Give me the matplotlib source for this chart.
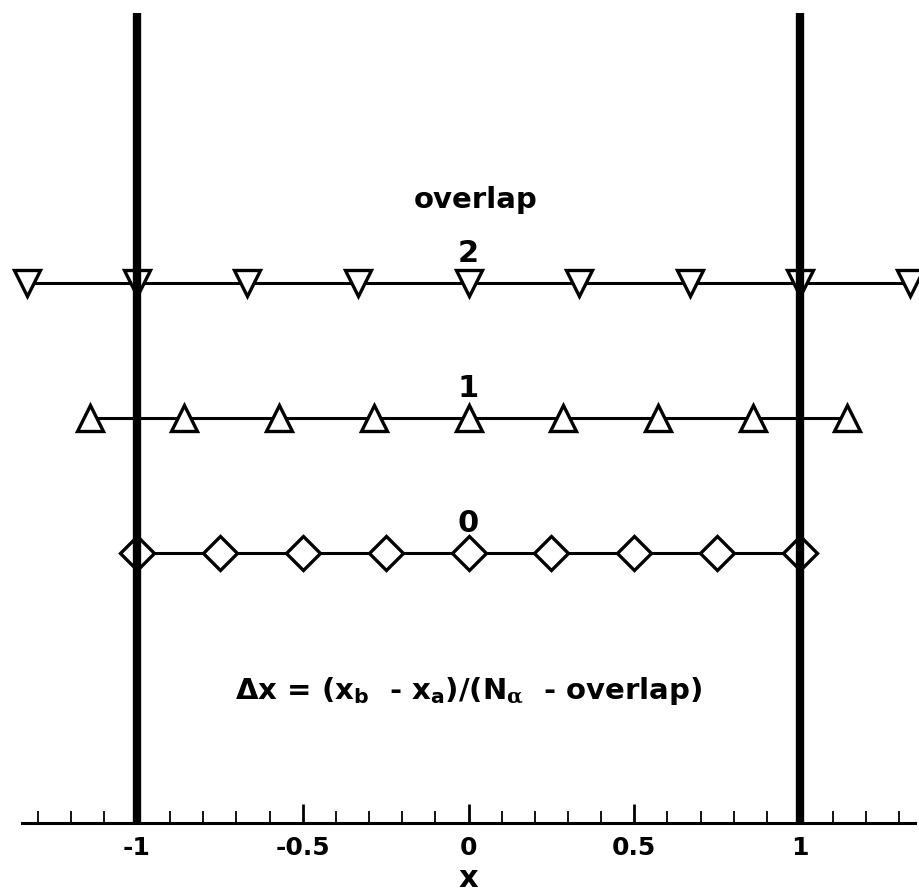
import matplotlib
matplotlib.use("Agg")
import matplotlib.pyplot as plt
from matplotlib.ticker import MultipleLocator, FixedFormatter, FixedLocator

plt.rcParams['font.family'] = ['DejaVu Sans']
plt.rcParams['font.weight'] = 'bold'
plt.rcParams['mathtext.fontset'] = 'custom'
plt.rcParams['mathtext.rm'] = 'DejaVu Sans:bold'
plt.rcParams['mathtext.it'] = 'DejaVu Serif'
plt.rcParams['mathtext.bf'] = 'DejaVu Sans:bold'

# grid point locations for each overlap count
x_overlap0 = [-1.0, -0.75, -0.5, -0.25, 0.0, 0.25, 0.5, 0.75, 1.0]
x_overlap1 = [-1.143, -0.857, -0.571, -0.286, 0.0, 0.286, 0.571, 0.857, 1.143]
x_overlap2 = [-1.333, -1.0, -0.667, -0.333, 0.0, 0.333, 0.667, 1.0, 1.333]
row_y = [0, 1, 2]
row_labels = ['0', '1', '2']
row_markers = ['D', '^', 'v']
row_sizes = [17, 19, 19]
boundaries = [-1.0, 1.0]
tick_vals = [-1, -0.5, 0, 0.5, 1]
tick_text = ['-1', '-0.5', '0', '0.5', '1']

fig = plt.figure(figsize=(9.2, 8.92), dpi=100)
ax = fig.add_axes([0.0239, 0.0774, 0.9707, 0.908])

rows = [x_overlap0, x_overlap1, x_overlap2]
for xs, y, m, ms in zip(rows, row_y, row_markers, row_sizes):
    ax.plot(xs, [y] * len(xs), color='black', lw=2.2, marker=m, ms=ms,
            mfc='white', mec='black', mew=2.4, clip_on=False, zorder=3)

for b in boundaries:
    ax.axvline(b, color='black', lw=6, zorder=5)

for y, lab in zip(row_y, row_labels):
    ax.text(0, y + 0.156, lab, ha='center', va='baseline', fontsize=22,
            fontweight='bold')
ax.text(0.02, 2.558, 'overlap', ha='center', va='baseline', fontsize=21,
        fontweight='bold')
ax.text(0, -1.081,
        r'$\mathit{\Delta}$x = (x$_{\mathrm{b}}$  - x$_{\mathrm{a}}$)/(N$_{\alpha}$  - overlap)',
        ha='center', va='baseline', fontsize=21, fontweight='bold')

ax.set_xlim(-1.347, 1.347)
ax.set_ylim(-2, 4)
ax.xaxis.set_major_locator(FixedLocator(tick_vals))
ax.xaxis.set_major_formatter(FixedFormatter(tick_text))
ax.xaxis.set_minor_locator(MultipleLocator(0.1))
ax.tick_params(axis='x', which='major', direction='in', length=14, width=2,
               pad=9.4, labelsize=18)
ax.tick_params(axis='x', which='minor', direction='in', length=8.5, width=1.3)
ax.set_xlabel('x', fontsize=22, fontweight='bold', labelpad=3.2)
ax.set_yticks([])
for side in ['left', 'right', 'top']:
    ax.spines[side].set_visible(False)
ax.spines['bottom'].set_linewidth(2.2)

fig.savefig('out.png', dpi=100)
